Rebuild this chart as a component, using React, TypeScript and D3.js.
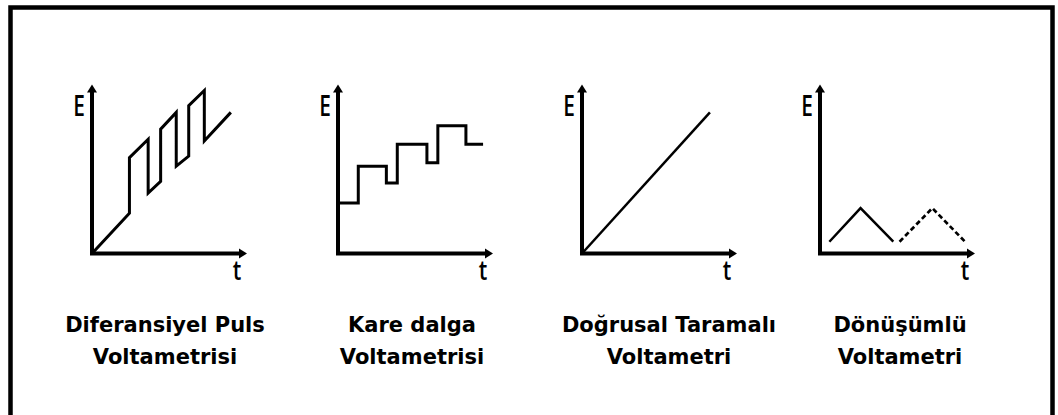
import React from "react";
import * as d3 from "d3";

// Potential–time waveforms of four voltammetric techniques (t and E in arbitrary units, 0–100)
const dpvT = [0, 24, 24, 36, 36, 44, 44, 54, 54, 62, 62, 72, 72, 89];
const dpvE = [0, 24, 57, 68, 36, 43, 74, 84, 52, 58, 88, 97, 67, 84];

const swvT = [0, 13, 13, 31, 31, 38, 38, 57, 57, 64, 64, 82, 82, 93];
const swvE = [30, 30, 52, 52, 42, 42, 65, 65, 54, 54, 76, 76, 65, 65];

const lsvT = [0, 82];
const lsvE = [0, 84];

const cvForwardT = [6, 26, 47];
const cvForwardE = [7, 27, 7];
const cvRepeatT = [51, 72, 93];
const cvRepeatE = [7, 27, 7];

const titleLine1 = ["Diferansiyel Puls", "Kare dalga", "Doğrusal Taramalı", "Dönüşümlü"];
const titleLine2 = ["Voltametrisi", "Voltametrisi", "Voltametri", "Voltametri"];

const yLabel = "E";
const xLabel = "t";

type Trace = { t: number[]; e: number[]; dashed?: boolean; width: number };

const panels: Trace[][] = [
  [{ t: dpvT, e: dpvE, width: 3 }],
  [{ t: swvT, e: swvE, width: 3 }],
  [{ t: lsvT, e: lsvE, width: 2.5 }],
  [
    { t: cvForwardT, e: cvForwardE, width: 2.5 },
    { t: cvRepeatT, e: cvRepeatE, width: 2.7, dashed: true },
  ],
];

// layout
const W = 1058;
const H = 415;
const originX = [92, 338, 582, 820];
const originY = 253.5;
const axisW = 156;
const axisH = 168;
const titleCenter = [165, 412, 669, 900];

export default function App() {
  const x = d3.scaleLinear().domain([0, 100]).range([0, axisW]);
  const y = d3.scaleLinear().domain([0, 100]).range([0, -axisH]);

  return (
    <svg
      width={W}
      height={H}
      style={{ position: "absolute", left: 0, top: 0, background: "#fff" }}
    >
      <rect x={10.5} y={7.5} width={1042} height={420} fill="none" stroke="#000" strokeWidth={4.5} />
      {panels.map((traces, i) => {
        const ox = originX[i];
        const tipY = -axisH - 1;
        const tipX = axisW - 1;
        return (
          <g key={i} transform={`translate(${ox},${originY})`}>
            {traces.map((tr, j) => {
              const line = d3
                .line<number>()
                .x((_, k) => x(tr.t[k]))
                .y((_, k) => y(tr.e[k]));
              return (
                <path
                  key={j}
                  d={line(tr.t) || ""}
                  fill="none"
                  stroke="#000"
                  strokeWidth={tr.width}
                  strokeDasharray={tr.dashed ? "5 3" : undefined}
                  strokeLinejoin="miter"
                />
              );
            })}
            <path
              d={`M0,${tipY + 6}L0,0L${tipX - 6},0`}
              fill="none"
              stroke="#000"
              strokeWidth={4}
              strokeLinejoin="miter"
            />
            <polygon points={`0,${tipY} 5,${tipY + 8} -5,${tipY + 8}`} fill="#000" />
            <polygon points={`${tipX},0 ${tipX - 8},5 ${tipX - 8},-5`} fill="#000" />
            <text
              transform={`translate(-7,${-137.5}) scale(0.72,1)`}
              textAnchor="end"
              fontFamily="'Open Sans', sans-serif"
              fontWeight={600}
              fontSize={29}
              fill="#000"
            >
              {yLabel}
            </text>
            <text
              transform={`translate(${tipX - 10},${26.5}) scale(0.8,1)`}
              textAnchor="middle"
              fontFamily="'Open Sans', sans-serif"
              fontWeight={600}
              fontSize={27}
              fill="#000"
            >
              {xLabel}
            </text>
          </g>
        );
      })}
      {titleLine1.map((s, i) => (
        <g key={i} fontFamily="'DejaVu Sans', sans-serif" fontWeight="bold" fontSize={21} textAnchor="middle" fill="#000">
          <text x={titleCenter[i]} y={332}>{s}</text>
          <text x={titleCenter[i]} y={364}>{titleLine2[i]}</text>
        </g>
      ))}
    </svg>
  );
}
